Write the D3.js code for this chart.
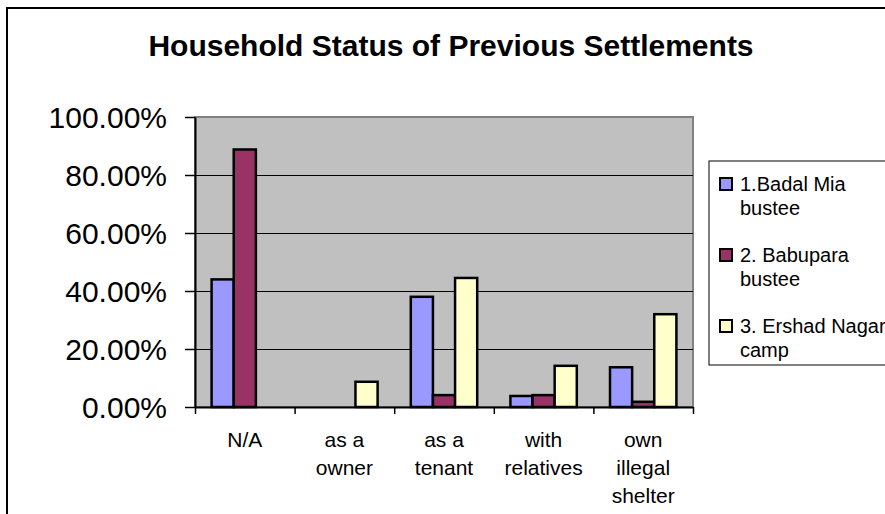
<!DOCTYPE html>
<html>
<head>
<meta charset="utf-8">
<script src="https://cdn.jsdelivr.net/npm/d3@7"></script>
<style>
  html, body { margin: 0; padding: 0; background: #fff; }
  svg { display: block; font-family: "Liberation Sans", Arial, sans-serif; }
</style>
</head>
<body>
<svg id="chart" width="885" height="514"></svg>
<script>
// Chart data
const title = "Household Status of Previous Settlements";
const categories = [
  ["N/A"],
  ["as a", "owner"],
  ["as a", "tenant"],
  ["with", "relatives"],
  ["own", "illegal", "shelter"]
];
const seriesNames = [["1.Badal Mia", "bustee"], ["2. Babupara", "bustee"], ["3. Ershad Nagar", "camp"]];
const badalMia   = [0.44, 0.0,   0.38,  0.038, 0.137];
const babupara   = [0.888, 0.0,  0.041, 0.041, 0.018];
const ershadNagar = [0.0, 0.087, 0.445, 0.142, 0.32];
const yTicks = [0, 0.2, 0.4, 0.6, 0.8, 1.0];
const colors = ["#9999FF", "#993366", "#FFFFCC"];

const seriesValues = [badalMia, babupara, ershadNagar];

const svg = d3.select("#chart");

// Outer chart frame
svg.append("rect")
  .attr("x", 7).attr("y", 8)
  .attr("width", 900).attr("height", 520)
  .attr("fill", "#fff").attr("stroke", "#000").attr("stroke-width", 2);

// Title
svg.append("text")
  .attr("x", 451).attr("y", 56)
  .attr("text-anchor", "middle")
  .attr("font-size", 30).attr("font-weight", "bold")
  .text(title);

const plot = { left: 195, right: 693, top: 117, bottom: 407 };

const x0 = d3.scaleBand()
  .domain(d3.range(categories.length))
  .range([plot.left, plot.right])
  .padding(0);

// Gap between groups is 150% of one bar width
const bw = x0.bandwidth() / (3 + 1.5);
const x1 = d3.scaleBand()
  .domain(d3.range(seriesValues.length))
  .range([bw * 0.75, bw * 0.75 + bw * 3])
  .padding(0);

const y = d3.scaleLinear().domain([0, 1]).range([plot.bottom, plot.top]);

// Plot area background
svg.append("rect")
  .attr("x", plot.left).attr("y", plot.top)
  .attr("width", plot.right - plot.left).attr("height", plot.bottom - plot.top)
  .attr("fill", "#C0C0C0").attr("stroke", "#808080").attr("stroke-width", 2);

// Gridlines
svg.append("g")
  .selectAll("line")
  .data(yTicks.filter(t => t > 0))
  .join("line")
  .attr("x1", plot.left).attr("x2", plot.right)
  .attr("y1", d => y(d)).attr("y2", d => y(d))
  .attr("stroke", d => d === 1 ? "#808080" : "#000")
  .attr("stroke-width", d => d === 1 ? 2 : 1)
  .attr("shape-rendering", "crispEdges");

// Bars
const groups = svg.append("g")
  .selectAll("g")
  .data(categories.map((c, i) => i))
  .join("g")
  .attr("transform", i => `translate(${x0(i)},0)`);

groups.selectAll("rect")
  .data(i => seriesValues.map((vals, s) => ({ s, v: vals[i] })).filter(d => d.v > 0))
  .join("rect")
  .attr("x", d => x1(d.s))
  .attr("y", d => y(d.v))
  .attr("width", x1.bandwidth())
  .attr("height", d => y(0) - y(d.v))
  .attr("fill", d => colors[d.s])
  .attr("stroke", "#000")
  .attr("stroke-width", 2.5);

// Y axis
const yAxis = d3.axisLeft(y)
  .tickValues(yTicks)
  .tickFormat(d => (d * 100).toFixed(2) + "%")
  .tickSizeInner(10).tickSizeOuter(0).tickPadding(18);

const gy = svg.append("g")
  .attr("transform", `translate(${plot.left},0)`)
  .call(yAxis);
gy.select(".domain").attr("stroke", "#000").attr("stroke-width", 2);
gy.selectAll(".tick line").attr("stroke", "#000").attr("stroke-width", 1.5);
gy.selectAll(".tick text")
  .attr("font-size", 30)
  .attr("font-family", "'Liberation Sans', Arial, sans-serif")
  .attr("fill", "#000")
  .attr("dy", "0.36em");

// X axis: ticks on category boundaries
const xb = d3.scaleLinear().domain([0, categories.length]).range([plot.left, plot.right]);
const xAxis = d3.axisBottom(xb)
  .tickValues(d3.range(categories.length + 1))
  .tickFormat("")
  .tickSizeInner(7).tickSizeOuter(0);
const gx = svg.append("g")
  .attr("transform", `translate(0,${plot.bottom})`)
  .call(xAxis);
gx.select(".domain").attr("stroke", "#000").attr("stroke-width", 2);
gx.selectAll(".tick line").attr("stroke", "#000").attr("stroke-width", 1.5);

// Category labels
const labels = svg.append("g")
  .selectAll("text")
  .data(categories)
  .join("text")
  .attr("x", (d, i) => x0(i) + x0.bandwidth() / 2)
  .attr("y", 447)
  .attr("text-anchor", "middle")
  .attr("font-size", 21);
labels.selectAll("tspan")
  .data(d => d)
  .join("tspan")
  .attr("x", function () { return d3.select(this.parentNode).attr("x"); })
  .attr("dy", (d, i) => i === 0 ? 0 : 28)
  .text(d => d);

// Legend
const legend = svg.append("g");
legend.append("rect")
  .attr("x", 709).attr("y", 161)
  .attr("width", 200).attr("height", 204)
  .attr("fill", "#fff").attr("stroke", "#000").attr("stroke-width", 1);

const entries = legend.selectAll("g")
  .data(seriesNames)
  .join("g")
  .attr("transform", (d, i) => `translate(0,${191 + i * 71})`);

entries.append("rect")
  .attr("x", 720).attr("y", -13)
  .attr("width", 12).attr("height", 12)
  .attr("fill", (d, i) => colors[i])
  .attr("stroke", "#000").attr("stroke-width", 2);

entries.append("text")
  .attr("x", 740).attr("y", 0)
  .attr("font-size", 20)
  .selectAll("tspan")
  .data(d => d)
  .join("tspan")
  .attr("x", 740)
  .attr("dy", (d, i) => i === 0 ? 0 : 24)
  .text(d => d);
</script>
</body>
</html>
